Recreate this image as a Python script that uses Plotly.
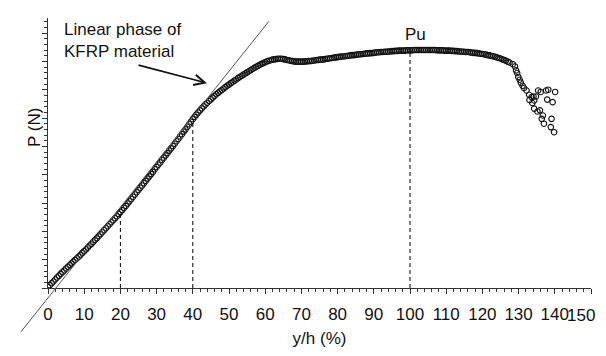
import plotly.graph_objects as go

# ---- data ----
step = 0.5
p_main = [
    0.04,0.10,0.17,0.23,0.30,0.37,0.43,0.50,0.56,0.62,0.69,0.75,0.81,0.87,0.93,0.99,1.05,1.11,1.17,1.24,
    1.30,1.36,1.43,1.50,1.56,1.63,1.70,1.76,1.83,1.90,1.97,2.04,2.11,2.18,2.25,2.32,2.39,2.46,2.53,2.61,
    2.68,2.75,2.83,2.90,2.98,3.06,3.14,3.22,3.30,3.38,3.46,3.54,3.62,3.70,3.78,3.86,3.94,4.02,4.10,4.19,
    4.27,4.35,4.43,4.52,4.60,4.68,4.76,4.85,4.93,5.01,5.09,5.18,5.26,5.35,5.43,5.52,5.60,5.69,5.78,5.87,
    5.96,6.04,6.12,6.20,6.27,6.34,6.41,6.48,6.54,6.60,6.66,6.72,6.78,6.84,6.89,6.94,6.99,7.04,7.09,7.14,
    7.18,7.23,7.27,7.32,7.36,7.41,7.45,7.49,7.53,7.57,7.61,7.65,7.69,7.73,7.77,7.81,7.84,7.88,7.91,7.94,
    7.97,8.00,8.02,8.04,8.06,8.07,8.08,8.09,8.09,8.09,8.08,8.07,8.05,8.04,8.02,8.01,8.00,7.99,7.99,7.99,
    7.99,7.99,8.00,8.00,8.01,8.01,8.02,8.03,8.04,8.05,8.06,8.06,8.07,8.08,8.09,8.10,8.11,8.12,8.13,8.14,
    8.15,8.16,8.17,8.17,8.18,8.19,8.20,8.21,8.22,8.22,8.23,8.24,8.25,8.25,8.26,8.27,8.28,8.28,8.29,8.29,
    8.30,8.31,8.32,8.32,8.33,8.33,8.34,8.34,8.35,8.35,8.36,8.36,8.37,8.37,8.38,8.38,8.38,8.38,8.39,8.39,
    8.39,8.39,8.40,8.40,8.40,8.40,8.40,8.40,8.40,8.40,8.40,8.40,8.40,8.40,8.40,8.39,8.39,8.39,8.39,8.38,
    8.38,8.38,8.38,8.37,8.37,8.36,8.36,8.35,8.35,8.34,8.34,8.33,8.33,8.32,8.31,8.30,8.30,8.29,8.28,8.27,
    8.26,8.25,8.24,8.22,8.21,8.19,8.18,8.16,8.14,8.12,8.10,8.07,8.05,8.02,7.99,7.96,
]
yh_main = [i * step for i in range(len(p_main))]

yh_tail = [128.4,129.0,129.3,129.6,129.9,130.3,130.6,131.1,131.5,132.2,132.9,133.0,133.6,134.1,134.8,
           134.3,133.8,135.4,136.1,137.6,138.2,140.1,137.9,139.4,134.3,135.2,135.9,136.7,136.4,137.0,
           139.1,138.9,139.8]
p_tail = [7.90,7.82,7.68,7.59,7.45,7.35,7.25,7.14,7.06,6.97,6.82,6.64,6.74,6.76,6.76,
          6.62,6.53,6.97,6.92,6.97,7.00,6.92,6.65,6.56,6.33,6.23,6.27,6.09,5.97,5.80,
          5.97,5.68,5.50]

tangent_yh = [-7.5, 61.0]
tangent_p = [-1.55, 9.41]

marked_yh = [20, 40, 100]
x_range = [0, 150]
y_range = [0, 9.53]
x_ticks = list(range(0, 151, 10))
# the last label is drawn as an annotation so it stays inside the window
x_ticktext = [str(v) for v in x_ticks[:-1]] + [""]
last_tick = x_ticks[-1]

FONT = "Liberation Sans, Arial, sans-serif"

fig = go.Figure()
fig.add_trace(go.Scatter(
    x=yh_main + yh_tail, y=p_main + p_tail, mode="markers",
    marker=dict(symbol="circle-open", size=5.5, color="#111", line=dict(width=1.1)),
    showlegend=False, hoverinfo="skip"))

# dashed verticals up to the curve
for xv in marked_yh:
    pv = p_main[int(round(xv / step))]
    fig.add_shape(type="line", xref="x", yref="y", x0=xv, x1=xv, y0=0, y1=pv,
                  line=dict(color="black", width=1, dash="4px,3px"))

# tangent (linear phase) line, extending beyond the axes
def dx(v):
    return (v - x_range[0]) / (x_range[1] - x_range[0])
def dy(v):
    return (v - y_range[0]) / (y_range[1] - y_range[0])
fig.add_shape(type="line", xref="x domain", yref="y domain",
              x0=dx(tangent_yh[0]), y0=dy(tangent_p[0]),
              x1=dx(tangent_yh[1]), y1=dy(tangent_p[1]),
              line=dict(color="#555", width=1))

fig.add_annotation(text="Linear phase of<br>KFRP material", xref="paper", yref="paper",
                   x=0.026, y=1.0, xanchor="left", yanchor="top", showarrow=False,
                   align="left", font=dict(size=17, color="#111", family=FONT))
fig.add_annotation(text="", x=43.9, y=7.23, ax=24.6, ay=7.88, xref="x", yref="y",
                   axref="x", ayref="y", showarrow=True, arrowhead=5, arrowsize=1.3,
                   arrowwidth=1.6, arrowcolor="#111")
fig.add_annotation(text="Pu", x=101.5, y=8.94, xref="x", yref="y", showarrow=False,
                   font=dict(size=17, color="#111", family=FONT))
fig.add_annotation(text="P (N)", xref="paper", yref="paper", x=-0.026, y=0.596,
                   xanchor="center", yanchor="middle",
                   textangle=-90, showarrow=False, font=dict(size=17, color="#111", family=FONT))
fig.add_annotation(text=str(last_tick), xref="x", yref="paper", x=last_tick, y=0,
                   xanchor="right", yanchor="top", xshift=6, yshift=-16, showarrow=False,
                   font=dict(size=17, color="#111", family=FONT))

# the page body adds an 8px offset; size and margins compensate for it
fig.update_layout(
    width=598, height=340, margin=dict(l=40, r=15, t=10, b=60, autoexpand=False),
    paper_bgcolor="white", plot_bgcolor="white",
    font=dict(family=FONT, size=17, color="#111"),
    xaxis=dict(range=x_range, tickvals=x_ticks, ticktext=x_ticktext, ticks="outside",
               ticklen=5, tickcolor="#333",
               showline=True, linecolor="#333", linewidth=1, showgrid=False, zeroline=False,
               automargin=False,
               minor=dict(dtick=2, ticks="outside", ticklen=3, tickcolor="#333"),
               ticklabelstandoff=6,
               title=dict(text="y/h (%)", font=dict(size=17), standoff=8)),
    yaxis=dict(range=y_range, dtick=1, ticks="outside", ticklen=5, tickcolor="#333",
               showline=True, linecolor="#333", linewidth=1, showgrid=False, zeroline=False,
               showticklabels=False, automargin=False,
               minor=dict(dtick=0.2, ticks="outside", ticklen=3, tickcolor="#333")),
)
fig.write_html("out.html")
